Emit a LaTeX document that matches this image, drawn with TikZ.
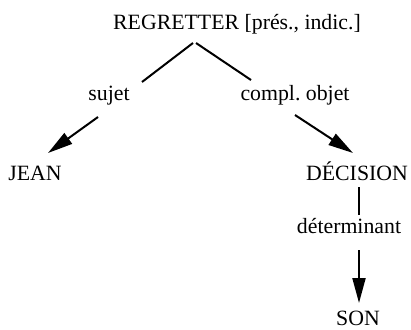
\documentclass[tikz,border=0pt]{standalone}
\usepackage{fontspec}
\setmainfont{Liberation Serif}
\usetikzlibrary{arrows.meta}
\begin{document}
\begin{tikzpicture}[x=1pt,y=-1pt,
  word/.style={anchor=base,inner sep=0pt,font=\fontsize{21.8pt}{26pt}\selectfont},
  link/.style={line width=2pt},
  dep/.style={link,-{Triangle[length=25pt,width=13pt]}}]
\useasboundingbox (0,0) rectangle (411,329);
% words and relation labels
\node[word] (reg)   at (237,30)  {REGRETTER [prés., indic.]};
\node[word] (sujet) at (109,100) {sujet};
\node[word] (compl) at (295,100) {compl.\ objet};
\node[word] (jean)  at (35,180)  {JEAN};
\node[word] (dec)   at (357,180) {DÉCISION};
\node[word] (det)   at (349,233) {déterminant};
\node[word] (son)   at (358,325) {SON};
% end points of the branches
\coordinate (apexL)   at (193,43);
\coordinate (apexR)   at (196,43);
\coordinate (sujetIn) at (142,82);
\coordinate (complIn) at (251,80);
\coordinate (sujetOut) at (98,117);
\coordinate (jeanIn)  at (48,153);
\coordinate (complOut) at (295,115);
\coordinate (decIn)   at (353,153);
\coordinate (decOut)  at (359,187);
\coordinate (detIn)   at (359,215);
\coordinate (detOut)  at (359,250);
\coordinate (sonIn)   at (359,303);
% branches
\draw[link] (apexL) -- (sujetIn);
\draw[link] (apexR) -- (complIn);
\draw[dep]  (sujetOut) -- (jeanIn);
\draw[dep]  (complOut) -- (decIn);
\draw[link] (decOut) -- (detIn);
\draw[dep]  (detOut) -- (sonIn);
\end{tikzpicture}
\end{document}
